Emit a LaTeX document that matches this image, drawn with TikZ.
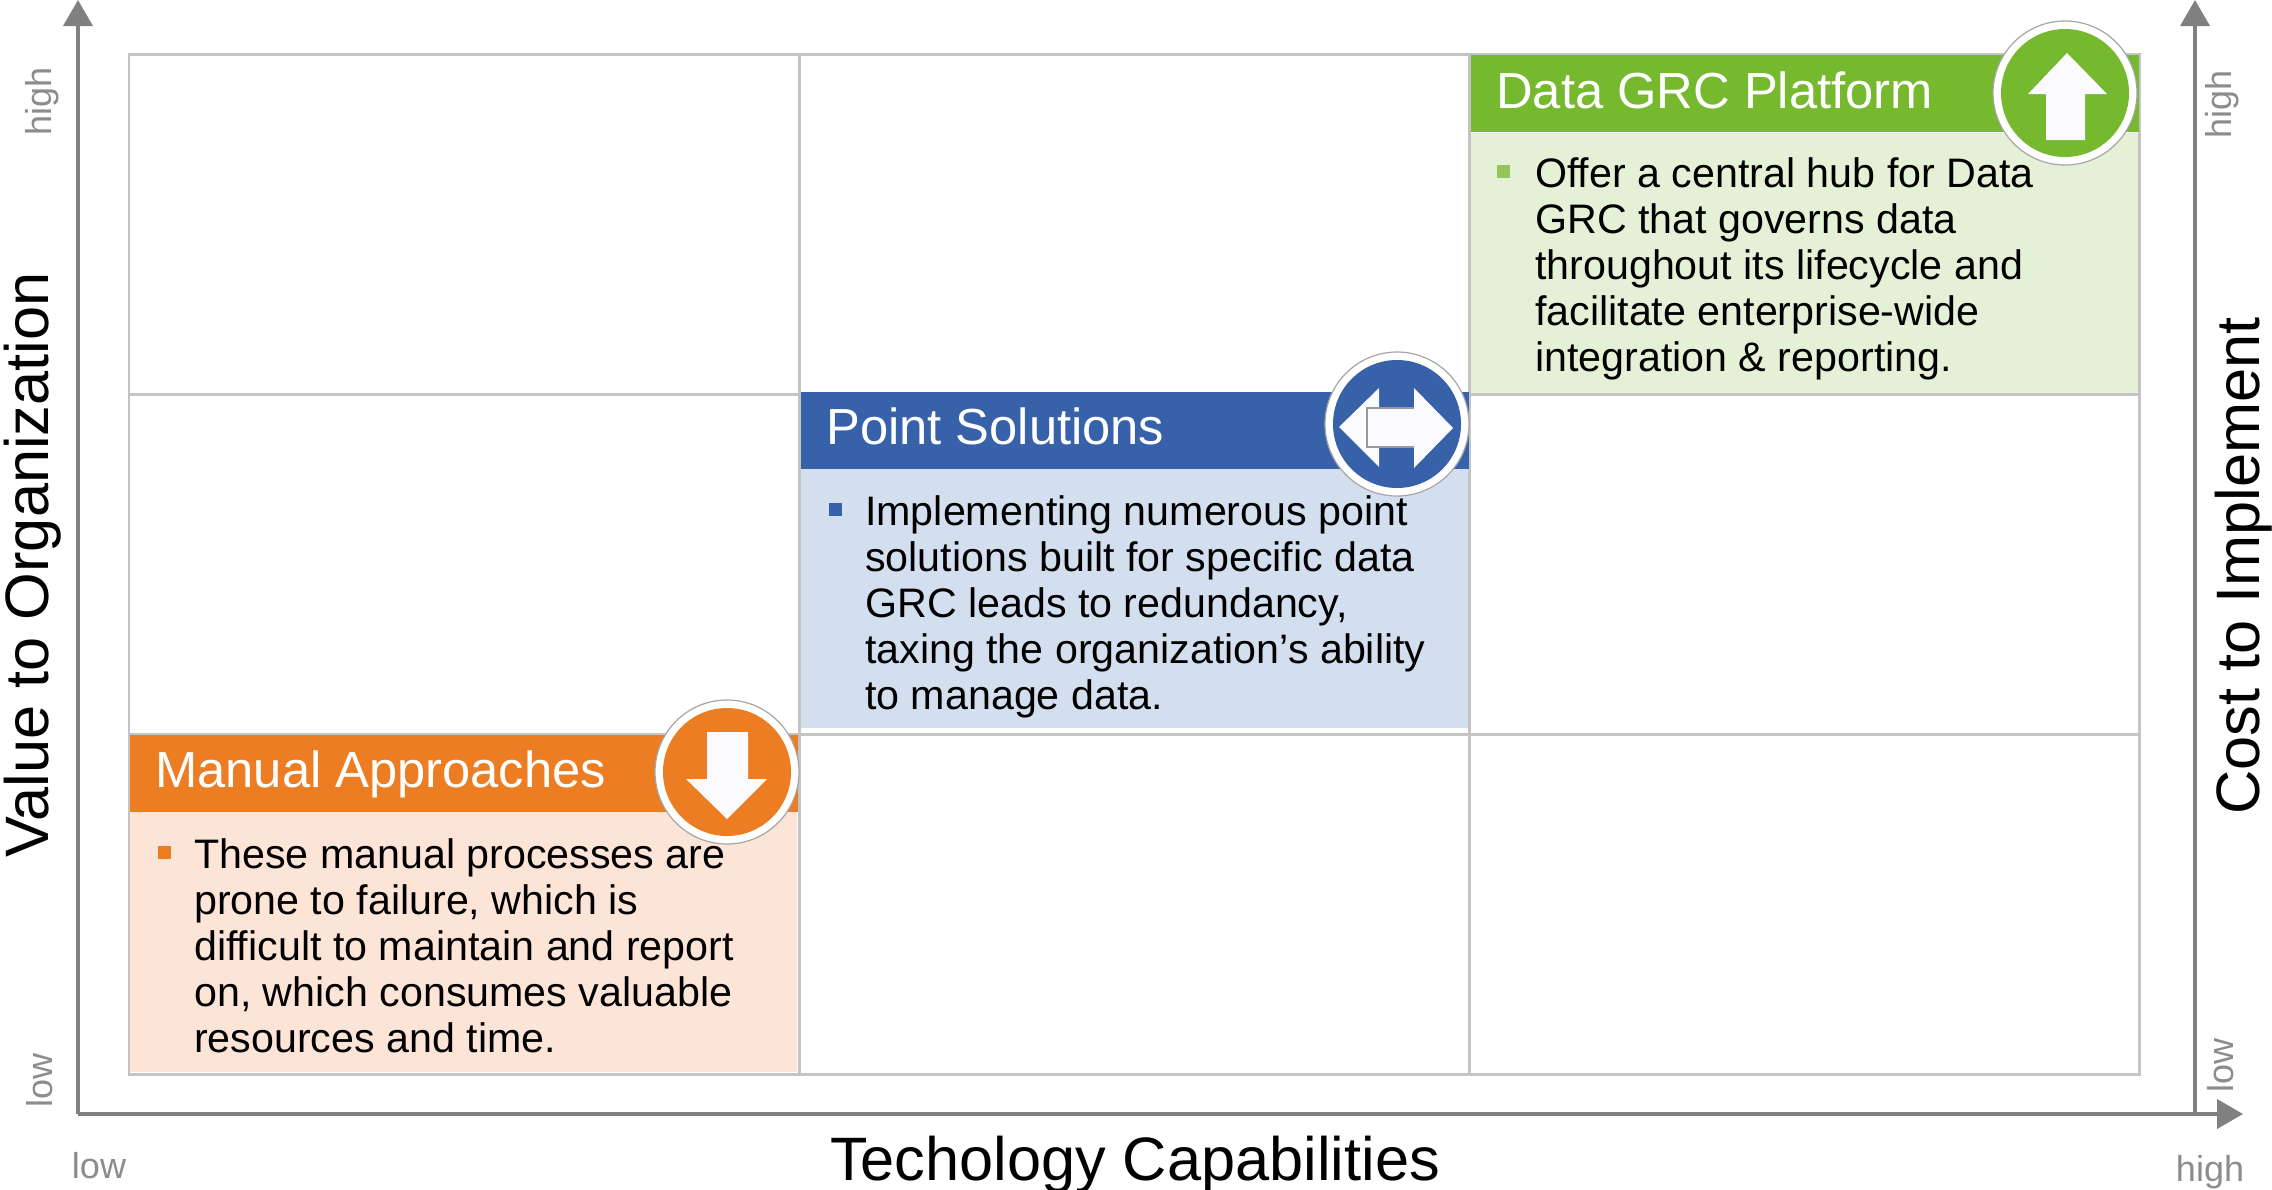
\documentclass[tikz,border=0pt]{standalone}
\usepackage{fontspec}
\setmainfont{Liberation Sans}
\usetikzlibrary{arrows.meta}
\definecolor{gridc}{HTML}{C4C4C4}
\definecolor{axisc}{HTML}{808080}
\definecolor{labc}{HTML}{8C8C8C}
\definecolor{grn}{HTML}{76B82E}
\definecolor{grnl}{HTML}{E4F1D6}
\definecolor{blu}{HTML}{3762AA}
\definecolor{blul}{HTML}{D3DFEF}
\definecolor{org}{HTML}{EC7D22}
\definecolor{orgl}{HTML}{FCE4D6}
\tikzset{
  x=1pt,y=-1pt,
  gridbox/.style={draw=gridc,line width=2.6pt,minimum width=670pt,minimum height=340pt,inner sep=0pt,anchor=north west},
  axisline/.style={draw=axisc,line width=4pt,-{Triangle[length=26pt,width=29pt]}},
  axislab/.style={text=labc,font=\fontsize{36}{40}\selectfont,inner sep=0pt},
  axistitle/.style={text=black,font=\fontsize{61.3}{66}\selectfont,inner sep=0pt},
  headbox/.style={minimum width=668pt,minimum height=77pt,inner sep=0pt,anchor=north west},
  bodybox/.style={minimum width=668pt,inner sep=0pt,anchor=north west},
  headtext/.style={text=white,font=\fontsize{50.7}{56}\selectfont,inner sep=0pt,anchor=west},
  bodytext/.style={text=black,font=\fontsize{41.2}{46}\selectfont,align=left,inner sep=0pt,anchor=north west},
  bulletbox/.style={minimum size=13pt,inner sep=0pt},
  badge/.style={circle,minimum size=144pt,inner sep=0pt,draw=gray!70,line width=1.2pt,fill=white},
  badgein/.style={circle,minimum size=128pt,inner sep=0pt},
  arrowshape/.style={fill=white!98!blue,draw=none},
}
\begin{document}
\begin{tikzpicture}
\useasboundingbox (0,0) rectangle (2272,1189);
% body fills
\node[bodybox,fill=grnl,minimum height=260pt] (gb) at (1470,133) {};
\node[bodybox,fill=blul,minimum height=259pt] (bb) at (800,469) {};
\node[bodybox,fill=orgl,minimum height=260pt] (ob) at (129,812) {};
% grid
\foreach \c/\xx in {a/127.5,b/798,c/1468}
  \foreach \r/\yy in {1/53,2/393,3/733}
    \node[gridbox] (g\c\r) at (\xx,\yy) {};
% headers
\node[headbox,fill=grn] (gh) at (1471,55) {};
\node[headbox,fill=blu] (bh) at (801,392) {};
\node[headbox,fill=org] (oh) at (130,735) {};
\node[headtext] (gt) at (1496,90) {Data GRC Platform};
\node[headtext] (bt) at (826,426) {Point Solutions};
\node[headtext] (ot) at (155,774) {Manual Approaches};
% bullets
\node[bulletbox,fill=grn!80!white] (gs) at (1503,171) {};
\node[bulletbox,fill=blu] (bs) at (835,509) {};
\node[bulletbox,fill=org] (os) at (164,852) {};
% body text
\node[bodytext] (gx) at (1535,157) {Offer a central hub for Data\\GRC that governs data\\throughout its lifecycle and\\facilitate enterprise-wide\\integration \& reporting.};
\node[bodytext] (bx) at (865,495) {Implementing numerous point\\solutions built for specific data\\GRC leads to redundancy,\\taxing the organization’s ability\\to manage data.};
\node[bodytext] (ox) at (194,838) {These manual processes are\\prone to failure, which is\\difficult to maintain and report\\on, which consumes valuable\\resources and time.};
% badges
\node[badge] (gc) at (2065,93) {};
\node[badgein,fill=grn] (gci) at (gc) {};
\fill[arrowshape] (2067,53) -- (2107,94) -- (2085,94) -- (2085,140) -- (2046,140) -- (2046,94) -- (2028,94) -- cycle;
\node[badge] (bc) at (1397,424) {};
\node[badgein,fill=blu] (bci) at (bc) {};
\fill[arrowshape] (1339,427) -- (1379,388) -- (1379,408) -- (1414,408) -- (1414,388) -- (1453,428) -- (1414,468) -- (1414,447) -- (1379,447) -- (1379,467) -- cycle;
\draw[gray!80,line width=1.2pt] (1414,408) -- (1367,408) -- (1367,447) -- (1414,447);
\node[badge] (oc) at (727,772) {};
\node[badgein,fill=org] (oci) at (oc) {};
\fill[arrowshape] (707,732) -- (748,732) -- (748,779) -- (767,779) -- (727,819) -- (686,779) -- (707,779) -- cycle;
% axes
\coordinate (origin) at (78,1114);
\coordinate (ytop) at (78,0);
\coordinate (xend) at (2243,1114);
\coordinate (rbase) at (2195,1114);
\coordinate (rtop) at (2195,0);
\draw[axisline] (origin) -- (ytop);
\draw[axisline] (origin) -- (xend);
\draw[axisline] (rbase) -- (rtop);
% labels
\node[axislab,rotate=90] (lh) at (42,101) {high};
\node[axislab,rotate=90] (ll) at (40,1080) {low};
\node[axislab,rotate=90] (rh) at (2222,104) {high};
\node[axislab,rotate=90] (rl) at (2221,1065) {low};
\node[axislab] (bl) at (99,1166) {low};
\node[axislab] (bh2) at (2210,1172) {high};
\node[axistitle,rotate=90] (yt) at (33,565) {Value to Organization};
\node[axistitle,rotate=90] (rt) at (2244,566) {Cost to Implement};
\node[axistitle] (xt) at (1135,1165) {Techology Capabilities};
\end{tikzpicture}
\end{document}
